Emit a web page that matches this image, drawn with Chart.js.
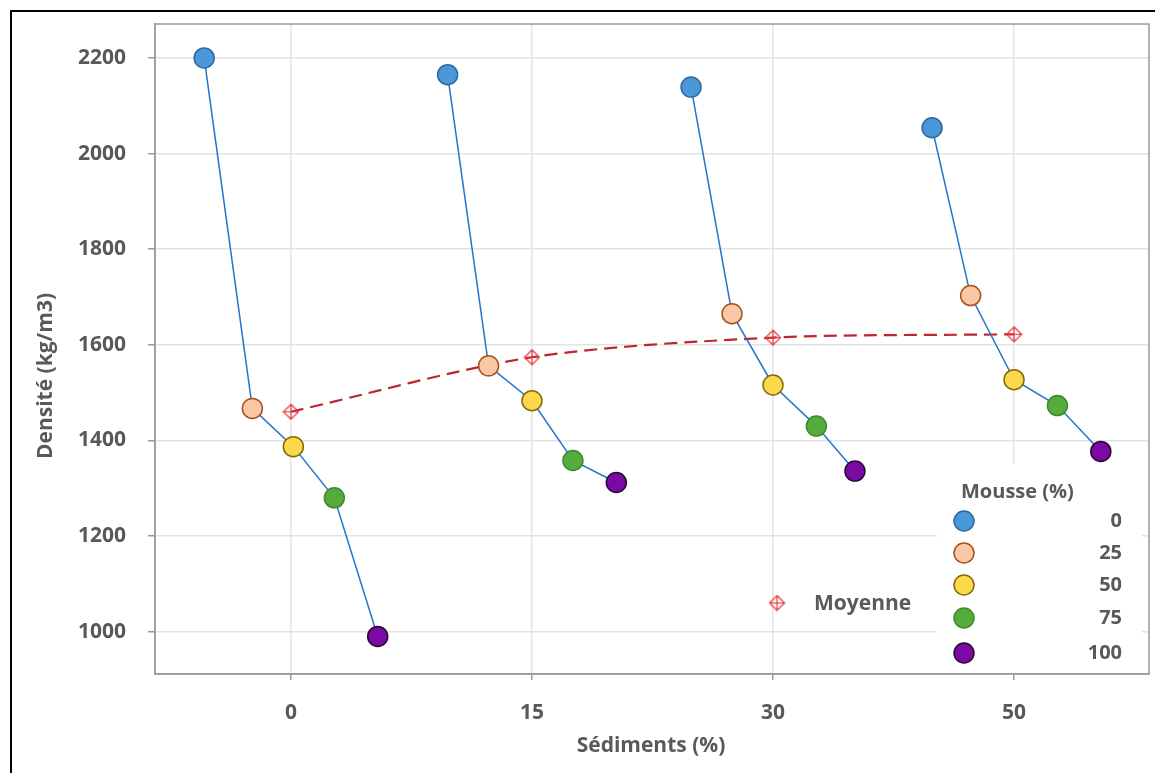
<!DOCTYPE html>
<html>
<head>
<meta charset="utf-8">
<script src="https://cdn.jsdelivr.net/npm/chart.js@4.4.0/dist/chart.umd.min.js"></script>
<style>
  body { margin: 0; background: #ffffff; }
</style>
</head>
<body>
<canvas id="densiteChart" width="1155" height="773"></canvas>
<script>
const sediments = ['0', '15', '30', '50'];
const mousse = ['0', '25', '50', '75', '100'];

// position of each point along the x axis (category units, 0 = "0 %")
const xSed0 = [-0.36, -0.16, 0.01, 0.18, 0.36];
const xSed15 = [0.65, 0.82, 1.0, 1.17, 1.35];
const xSed30 = [1.66, 1.83, 2.0, 2.18, 2.34];
const xSed50 = [2.66, 2.82, 3.0, 3.18, 3.36];

// densité (kg/m3) for mousse 0, 25, 50, 75, 100 %
const densSed0 = [2200, 1467, 1387, 1280, 990];
const densSed15 = [2165, 1556, 1483, 1358, 1312];
const densSed30 = [2139, 1665, 1516, 1430, 1336];
const densSed50 = [2054, 1703, 1527, 1473, 1377];

const moyenne = [1460, 1574, 1615, 1622];
const yTicks = [1000, 1200, 1400, 1600, 1800, 2000, 2200];

const mousseFill = ['#4a98d8', '#fbc8a6', '#fcd94a', '#55ab3c', '#7a0aa2'];
const mousseEdge = ['#2e6aa0', '#a5521c', '#86690d', '#3f8a2c', '#2a0636'];

const FONT = "'Open Sans', sans-serif";
const GREY = '#595959';

function diamondCross(size, color) {
  const c = document.createElement('canvas');
  c.width = size;
  c.height = size;
  const g = c.getContext('2d');
  const h = size / 2;
  g.strokeStyle = color;
  g.lineWidth = 1.2;
  g.beginPath();
  g.moveTo(h, 1); g.lineTo(size - 1, h); g.lineTo(h, size - 1); g.lineTo(1, h); g.closePath();
  g.moveTo(h, 1); g.lineTo(h, size - 1);
  g.moveTo(1, h); g.lineTo(size - 1, h);
  g.stroke();
  return c;
}
const moyMarker = diamondCross(17, '#e3353b');

const groups = [
  { x: xSed0, y: densSed0 },
  { x: xSed15, y: densSed15 },
  { x: xSed30, y: densSed30 },
  { x: xSed50, y: densSed50 },
];

const datasets = groups.map((g, i) => ({
  label: 'Sédiments ' + sediments[i],
  data: g.x.map((x, j) => ({ x: x, y: g.y[j] })),
  showLine: true,
  borderColor: '#2374cc',
  borderWidth: 1.5,
  pointRadius: 10,
  pointHoverRadius: 10,
  pointBorderWidth: 1.5,
  pointBackgroundColor: mousseFill,
  pointBorderColor: mousseEdge,
}));

datasets.push({
  label: 'Moyenne',
  data: moyenne.map((y, i) => ({ x: i, y: y })),
  showLine: true,
  borderColor: '#bd262d',
  borderWidth: 2.2,
  borderDash: [13, 7],
  tension: 0.3,
  pointStyle: moyMarker,
  pointRadius: 8,
  pointHoverRadius: 8,
});

const decor = {
  id: 'decor',
  beforeDraw(chart) {
    const c = chart.ctx;
    c.save();
    c.fillStyle = '#ffffff';
    c.fillRect(0, 0, chart.width, chart.height);
    c.strokeStyle = '#000000';
    c.lineWidth = 2;
    c.strokeRect(11, 11, chart.width + 20, chart.height + 20);
    c.restore();
  },
  afterDraw(chart) {
    const c = chart.ctx;
    const a = chart.chartArea;
    c.save();

    // legend box (covers the grid)
    c.fillStyle = '#ffffff';
    c.fillRect(937, 464, a.right - 937 - 7, a.bottom - 464 - 1);

    c.fillStyle = GREY;
    c.font = 'bold 20px ' + FONT;
    c.textBaseline = 'middle';
    c.textAlign = 'left';
    c.fillText('Mousse (%)', 961, 492);

    const rows = [521, 553, 585, 618, 653];
    mousse.forEach((m, i) => {
      c.beginPath();
      c.arc(964, rows[i], 10, 0, Math.PI * 2);
      c.fillStyle = mousseFill[i];
      c.fill();
      c.lineWidth = 1.5;
      c.strokeStyle = mousseEdge[i];
      c.stroke();
      c.fillStyle = GREY;
      c.textAlign = 'right';
      c.fillText(m, 1122, rows[i]);
    });

    // moyenne legend
    c.drawImage(moyMarker, 777 - 8.5, 603 - 8.5);
    c.textAlign = 'left';
    c.font = 'bold 21px ' + FONT;
    c.fillText('Moyenne', 814, 604);

    // plot frame
    c.strokeStyle = '#9a9a9a';
    c.lineWidth = 1.5;
    c.strokeRect(a.left, a.top, a.right - a.left, a.bottom - a.top);

    // axis titles
    c.fillStyle = GREY;
    c.font = 'bold 21px ' + FONT;
    c.textAlign = 'center';
    c.fillText('Sédiments (%)', 651, 746);
    c.translate(46, 376);
    c.rotate(-Math.PI / 2);
    c.fillText('Densité (kg/m3)', 0, 0);
    c.restore();
  }
};

const tickFont = { family: FONT, size: 21, weight: 'bold' };

const chart = new Chart(document.getElementById('densiteChart').getContext('2d'), {
  type: 'scatter',
  data: { datasets: datasets },
  plugins: [decor],
  options: {
    responsive: false,
    animation: false,
    layout: { autoPadding: false, padding: { left: 0, right: 6, top: 24, bottom: 0 } },
    plugins: {
      legend: { display: false },
      tooltip: { enabled: false },
    },
    scales: {
      x: {
        type: 'linear',
        min: -0.564,
        max: 3.56,
        afterBuildTicks: s => { s.ticks = sediments.map((_, i) => ({ value: i })); },
        afterFit: s => {
          s.height = 99;
          s.paddingLeft = 0;
          s.paddingRight = 0;
        },
        ticks: {
          callback: (v, i) => sediments[i],
          font: tickFont,
          color: GREY,
          padding: 20,
          maxRotation: 0,
          autoSkip: false,
        },
        grid: { color: '#e3e3e3', lineWidth: 1.5, tickLength: 6, tickColor: '#9a9a9a' },
        border: { color: '#9a9a9a', width: 1.5 },
      },
      y: {
        min: 911.5,
        max: 2271,
        afterBuildTicks: s => { s.ticks = yTicks.map(v => ({ value: v })); },
        afterFit: s => {
          s.width = 155;
          s.paddingTop = 0;
          s.paddingBottom = 0;
        },
        ticks: {
          callback: v => String(v),
          font: tickFont,
          color: GREY,
          padding: 22,
        },
        grid: { color: '#e3e3e3', lineWidth: 1.5, tickLength: 7, tickColor: '#9a9a9a' },
        border: { color: '#9a9a9a', width: 1.5 },
      },
    },
  },
});
</script>
</body>
</html>
